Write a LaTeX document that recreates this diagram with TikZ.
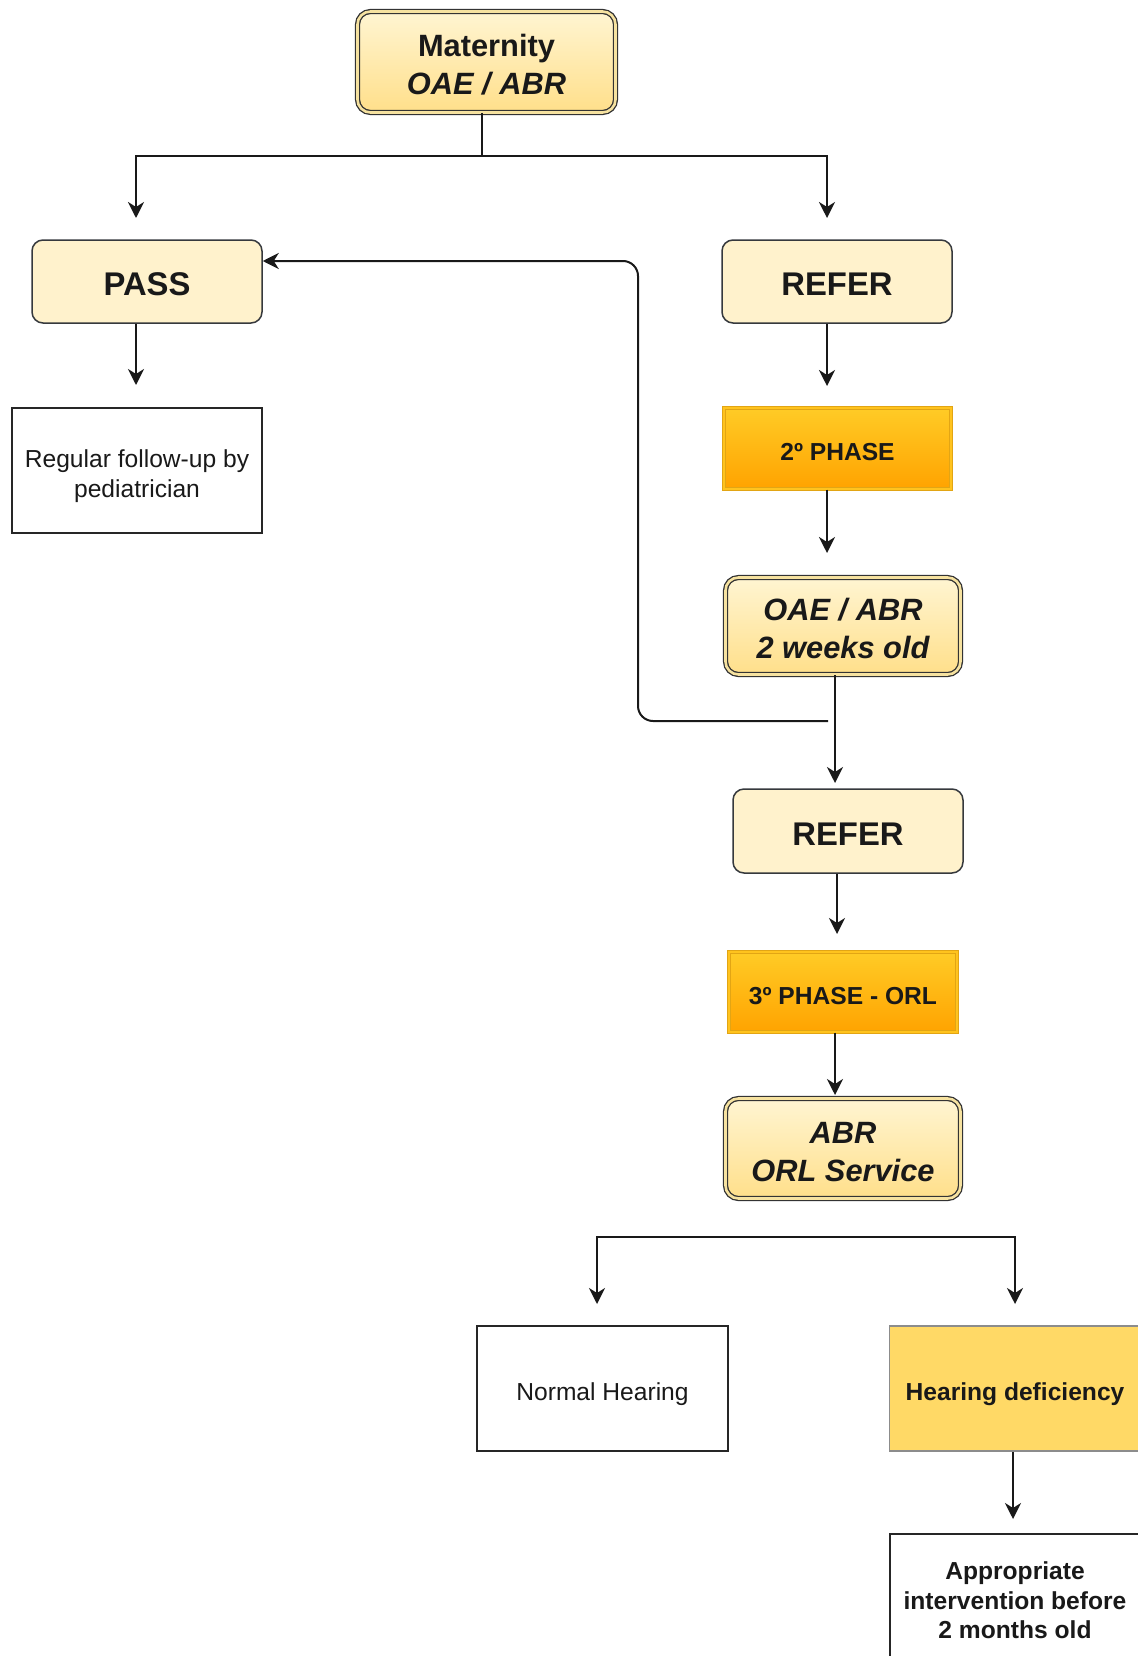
\documentclass[tikz,border=0pt]{standalone}
\usepackage{fontspec}
\setmainfont{Liberation Sans}
\usetikzlibrary{arrows.meta}
\definecolor{cream}{HTML}{FFF2CC}
\definecolor{creamtop}{HTML}{FFF5D2}
\definecolor{creambot}{HTML}{FFDF8A}
\definecolor{gapgold}{HTML}{F6E2A0}
\definecolor{edge}{HTML}{36393D}
\definecolor{phtop}{HTML}{FFCB26}
\definecolor{phbot}{HTML}{FFA300}
\definecolor{phedge}{HTML}{E2A514}
\definecolor{hdfill}{HTML}{FFD966}
\newcommand\txtbig{\fontsize{32.8pt}{39.4pt}\selectfont\bfseries}
\newcommand\txtmid{\fontsize{30.8pt}{37.6pt}\selectfont\bfseries}
\newcommand\txtsmall{\fontsize{24.6pt}{29.6pt}\selectfont}
% struts that set the vertical placement of the text inside its box
\newcommand\topbig{\rule{0pt}{37.1pt}}
\newcommand\botbig{\rule[-8.2pt]{0pt}{0pt}}
\newcommand\topmid{\rule{0pt}{35.2pt}}
\newcommand\botmid{\rule[-7.7pt]{0pt}{0pt}}
\newcommand\topsmall{\rule{0pt}{30.8pt}}
\newcommand\botsmall{\rule[-6.2pt]{0pt}{0pt}}
\begin{document}
\begin{tikzpicture}[x=1pt,y=-1pt,
  every node/.style={inner sep=0pt, align=center, text=black!90},
  softbox/.style={draw=edge, line width=1.5pt, fill=cream, rounded corners=11pt,
    minimum width=230pt, minimum height=83pt, font=\txtbig},
  dbox/.style={draw=black!80, line width=1.3pt, double=gapgold, double distance=2.6pt,
    rounded corners=13pt, top color=creamtop, bottom color=creambot,
    minimum width=235pt, minimum height=97pt, font=\txtmid\itshape},
  phasebox/.style={draw=phedge, line width=1.1pt, double=phtop!80!phbot, double distance=2pt,
    top color=phtop, bottom color=phbot, minimum width=227pt, minimum height=81pt,
    font=\txtsmall\bfseries},
  plainbox/.style={draw=black!85, line width=2pt, fill=white,
    minimum width=250pt, minimum height=125pt, font=\txtsmall},
  conn/.style={line width=2pt, draw=black!90},
  arr/.style={conn, -{Stealth[length=16pt, width=16pt, inset=5pt]}}
]
\useasboundingbox (0,0) rectangle (1137,1656);

% nodes
\node[dbox, minimum width=258pt, minimum height=101pt, font=\txtmid] (mat) at (486.5,62) {\topmid Maternity\\\textit{OAE / ABR}\botmid};
\node[softbox] (pass) at (147,281.5) {\topbig PASS\botbig};
\node[softbox] (refer1) at (837,281.5) {\topbig REFER\botbig};
\node[plainbox] (follow) at (137,470) {\topsmall Regular follow-up by\\pediatrician\botsmall};
\node[phasebox] (ph2) at (837.5,448.5) {\topsmall 2º PHASE\botsmall};
\node[dbox] (oae2) at (843,626) {\topmid OAE / ABR\\2 weeks old\botmid};
\node[softbox, minimum height=84pt] (refer2) at (848,831) {\topbig REFER\botbig};
\node[phasebox, minimum width=228pt, minimum height=80pt] (ph3) at (843,992) {\topsmall 3º PHASE - ORL\botsmall};
\node[dbox, minimum height=100pt] (abr) at (843,1148.5) {\topmid ABR\\ORL Service\botmid};
\node[plainbox, minimum width=251pt] (normal) at (602.5,1388.5) {\topsmall Normal Hearing\botsmall};
\node[plainbox, draw=black!45, line width=1.5pt, fill=hdfill, minimum width=251pt, font=\txtsmall\bfseries] (hdef) at (1015,1388.5) {\topsmall Hearing deficiency\botsmall};
\node[plainbox, minimum width=251pt, minimum height=126pt, font=\txtsmall\bfseries] (appr) at (1015,1597) {\topsmall Appropriate\\intervention before\\2 months old\botsmall};

% free ends
\coordinate (fkL) at (136,156);
\coordinate (fkR) at (827,156);
\coordinate (tipPass) at (136,218);
\coordinate (tipRefer) at (827,218);
\coordinate (tipFollow) at (136,385);
\coordinate (tipPh2) at (827,386);
\coordinate (tipOae) at (827,553);
\coordinate (tipRefer2) at (835,783);
\coordinate (tipPh3) at (837,934);
\coordinate (tipAbr) at (835,1095);
\coordinate (loopS) at (828,721);
\coordinate (fbM) at (806,1237);
\coordinate (tipNormal) at (597,1304);
\coordinate (tipHdef) at (1015,1304);
\coordinate (tipAppr) at (1013,1519);

% connectors
\draw[arr] ([xshift=-4.5pt]mat.south) |- (fkL) -- (tipPass);
\draw[arr] ([xshift=-4.5pt]mat.south) |- (fkR) -- (tipRefer);
\draw[arr] ([xshift=-11pt]pass.south) -- (tipFollow);
\draw[arr] ([xshift=-10pt]refer1.south) -- (tipPh2);
\draw[arr] ([xshift=-10.5pt]ph2.south) -- (tipOae);
\draw[arr] ([xshift=-8pt]oae2.south) -- (tipRefer2);
\draw[arr] ([xshift=-11pt]refer2.south) -- (tipPh3);
\draw[arr] ([xshift=-8pt]ph3.south) -- (tipAbr);
\draw[arr, rounded corners=15pt] (loopS) -- (638,721) -- (638,261) -- ([yshift=20.5pt]pass.east);
\draw[arr] (fbM) -| (tipNormal);
\draw[arr] (fbM) -| (tipHdef);
\draw[arr] ([xshift=-2pt]hdef.south) -- (tipAppr);
\end{tikzpicture}
\end{document}
